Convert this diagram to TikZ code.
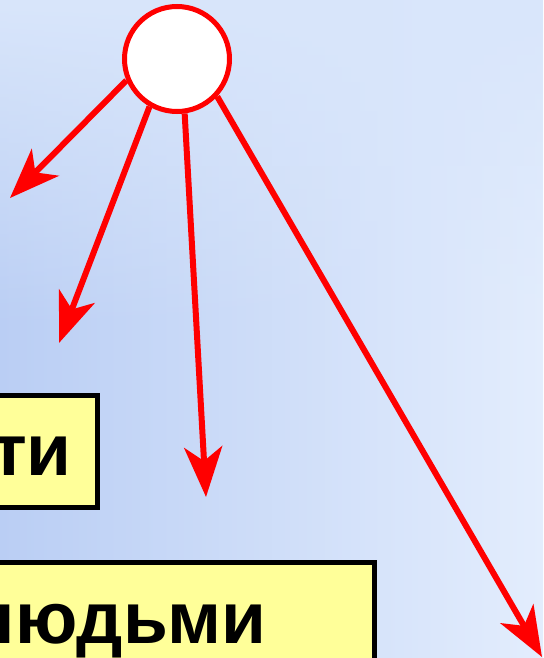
\documentclass[tikz,border=0pt]{standalone}
\usepackage{fontspec}
\setmainfont{Liberation Sans}
\usepackage{tikz}
\usetikzlibrary{arrows.meta, positioning, fadings}
\definecolor{bgdark}{HTML}{BACEF4}
\definecolor{bglight}{HTML}{E3EDFD}
\definecolor{bgtop}{HTML}{D9E6FB}
\definecolor{boxfill}{HTML}{FFFF99}

\begin{document}
\begin{tikzpicture}[x=1pt, y=-1pt,
    sun/.style={circle, draw=red, fill=white, line width=5pt, minimum size=105pt, inner sep=0pt},
    ray/.style={red, line width=6pt, -{Stealth[length=50pt, width=38pt, inset=14pt]}},
    box/.style={draw=black, fill=boxfill, line width=5pt},
    word/.style={inner sep=0pt, font=\fontsize{73}{80}\selectfont\bfseries},
]
\useasboundingbox (0,0) rectangle (543,658);

% Background
\shade[left color=bgdark, right color=bglight] (0,0) rectangle (543,658);
\fill[bgtop, path fading=south] (0,0) rectangle (543,330);

% Boxes
\draw[box] (-20,395.5) rectangle (97.5,507.5);
\node[word, anchor=base east] (w1) at (72,475) {ти};
\draw[box] (-20,562.5) rectangle (374.5,700);
\node[word, anchor=base east] (w2) at (267,643) {людьми};

% Circle and rays
\node[sun] (s) at (177,59) {};
\coordinate (t1) at (10,198);
\coordinate (t2) at (59,343);
\coordinate (t3) at (206,497);
\coordinate (t4) at (542,657);
\foreach \a/\t in {203/t1, 240/t2, 278/t3, 317/t4} {
    \draw[ray] (s.\a) -- (\t);
}

\end{tikzpicture}
\end{document}
